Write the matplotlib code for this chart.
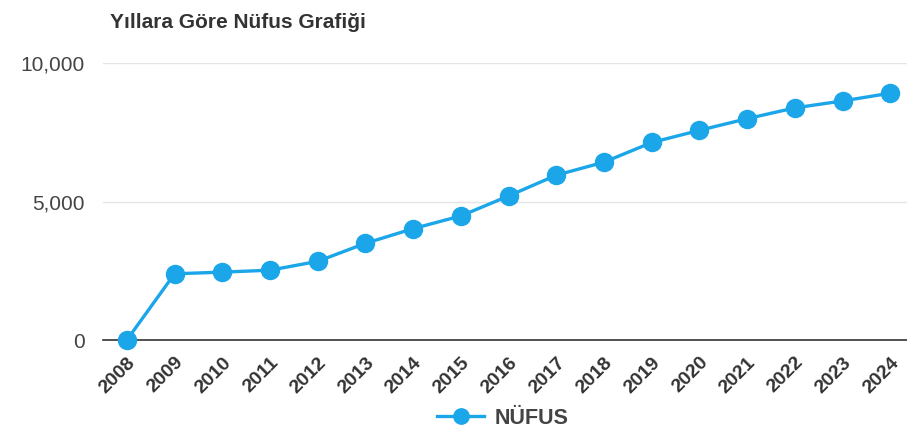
import matplotlib
matplotlib.use("Agg")
import matplotlib.pyplot as plt
from matplotlib.ticker import FuncFormatter

years = ["2008", "2009", "2010", "2011", "2012", "2013", "2014", "2015", "2016",
         "2017", "2018", "2019", "2020", "2021", "2022", "2023", "2024"]
nufus = [0, 2390, 2450, 2520, 2840, 3490, 4020, 4480, 5200,
         5950, 6420, 7130, 7570, 7990, 8380, 8630, 8910]
yticks = [0, 5000, 10000]

plt.rcParams['font.family'] = ['Liberation Sans', 'DejaVu Sans']
color = '#1ba6ea'
txt = '#333333'

fig = plt.figure(figsize=(9.07, 4.41), dpi=100)
fig.patch.set_facecolor('white')
ax = fig.add_axes([103/907, 1-340/441, 1-103/907, (340-63)/441])

x = list(range(len(years)))
ax.plot(x, nufus, color=color, lw=2.4, marker='o', ms=13, clip_on=False,
        zorder=3, label='NÜFUS')
ax.set_xlim(-0.5, 16.35)
ax.set_ylim(0, 10000)
ax.set_yticks(yticks)
ax.yaxis.set_major_formatter(FuncFormatter(lambda v, p: f"{int(v):,}"))
ax.set_xticks(x)
ax.set_xticklabels(years, rotation=45, ha='right', rotation_mode='anchor',
                   fontsize=14, fontweight='bold', color=txt)
for lbl in ax.get_yticklabels():
    lbl.set_fontsize(15)
    lbl.set_color('#444444')
ax.tick_params(axis='y', length=0, pad=13)
ax.tick_params(axis='x', length=0, pad=10)
ax.grid(axis='y', color='#e4e4e4', lw=1)
ax.set_axisbelow(True)
for s in ['top', 'right', 'left']:
    ax.spines[s].set_visible(False)
ax.spines['bottom'].set_color('#333333')
ax.spines['bottom'].set_linewidth(1.2)

fig.text(110/907, 1-23/441, "Yıllara Göre Nüfus Grafiği", fontsize=15,
         fontweight='bold', color=txt, ha='left', va='center')

leg = fig.legend(loc='center', bbox_to_anchor=(503/907, 1-418/441), frameon=False,
                 fontsize=15.5, handlelength=2.2, handletextpad=0.5, markerscale=0.85)
for t in leg.get_texts():
    t.set_color('#444444')
    t.set_fontweight('bold')

fig.savefig('out.png', dpi=100, facecolor='white')
